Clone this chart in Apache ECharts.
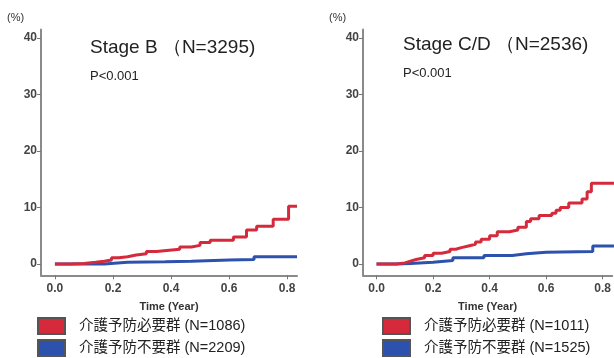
<!DOCTYPE html>
<html>
<head>
<meta charset="utf-8">
<script src="https://cdn.jsdelivr.net/npm/echarts@6/dist/echarts.min.js"></script>
<style>
html,body{margin:0;padding:0;background:#fff;}
#c{width:614px;height:358px;}
</style>
</head>
<body>
<div id="c"></div>
<script>
// ---- data (time in years, cumulative incidence in %) ----
const xTicks = [0, 0.2, 0.4, 0.6, 0.8];
const yTicks = [0, 10, 20, 30, 40];

const titles = ['Stage B （N=3295)', 'Stage C/D （N=2536)'];
const pText = ['P<0.001', 'P<0.001'];

const namesB = ['介護予防必要群 (N=1086)', '介護予防不要群 (N=2209)'];
const namesCD = ['介護予防必要群 (N=1011)', '介護予防不要群 (N=1525)'];

const stageB_need = [
  [0,0],[0.05,0.1],[0.1,0.3],[0.14,0.5],[0.17,0.7],[0.195,1.1],[0.22,1.3],[0.25,1.6],
  [0.28,1.8],[0.315,2.2],[0.35,2.4],[0.385,2.6],[0.43,3.0],[0.47,3.3],[0.5,3.8],
  [0.535,4.2],[0.615,4.8],[0.66,6.0],[0.695,6.7],[0.752,7.9],[0.805,10.2],[0.834,10.2]
];
const stageB_noneed = [
  [0,0],[0.17,0.3],[0.25,0.4],[0.38,0.5],[0.47,0.7],[0.6,0.8],[0.686,1.3],[0.834,1.3]
];
const stageCD_need = [
  [0,0],[0.07,0.2],[0.1,0.5],[0.12,0.8],[0.14,1.1],[0.17,1.5],[0.2,1.9],[0.23,2.2],
  [0.26,2.6],[0.28,2.9],[0.3,3.2],[0.325,3.5],[0.35,3.9],[0.37,4.4],[0.4,5.0],
  [0.427,5.7],[0.47,6.0],[0.5,6.5],[0.53,7.5],[0.545,8.0],[0.575,8.6],[0.62,9.0],
  [0.635,9.5],[0.65,10.0],[0.68,10.8],[0.727,11.5],[0.745,12.8],[0.76,14.3],[0.84,14.3]
];
const stageCD_noneed = [
  [0,0],[0.07,0.1],[0.12,0.3],[0.2,0.6],[0.27,1.1],[0.38,1.5],[0.48,1.8],[0.53,2.1],
  [0.6,2.2],[0.765,3.2],[0.84,3.2]
];

const RED = '#d42a3c';
const BLUE = '#2d52ad';
const LATIN = '"Liberation Sans", Arial, sans-serif';
const CJK = '"Liberation Sans", "Noto Sans CJK JP", sans-serif';

function xAxis(gi, max) {
  return {
    type: 'value', gridIndex: gi, min: -0.048, max: max,
    name: 'Time (Year)', nameLocation: 'middle', nameGap: 26,
    nameTextStyle: {fontFamily: LATIN, fontWeight: 'bold', fontSize: 11, color: '#333'},
    axisLine: {show: true, onZero: false, lineStyle: {color: '#8a8a8a', width: 2}},
    axisTick: {show: true, length: 4, customValues: xTicks, lineStyle: {color: '#777'}},
    axisLabel: {customValues: xTicks, formatter: v => v.toFixed(1), margin: 7,
      fontFamily: LATIN, fontWeight: 'bold', fontSize: 12, color: '#444'},
    splitLine: {show: false}
  };
}
function yAxis(gi) {
  return {
    type: 'value', gridIndex: gi, min: -2, max: 41.5,
    axisLine: {show: true, onZero: false, lineStyle: {color: '#8a8a8a', width: 2}},
    axisTick: {show: true, length: 4, customValues: yTicks, lineStyle: {color: '#777'}},
    axisLabel: {customValues: yTicks, margin: 4,
      fontFamily: LATIN, fontWeight: 'bold', fontSize: 12, color: '#444'},
    splitLine: {show: false}
  };
}
function line(name, data, color, idx) {
  return {
    name: name, type: 'line', step: 'end', data: data,
    xAxisIndex: idx, yAxisIndex: idx, symbol: 'none',
    lineStyle: {color: color, width: 3}, itemStyle: {color: color, borderColor: '#555', borderWidth: 1},
    z: color === RED ? 3 : 2, animation: false
  };
}
function legend(left, top, name) {
  return {
    left: left, top: top, orient: 'vertical', data: [name], padding: 0,
    icon: 'rect', itemWidth: 27, itemHeight: 16,
    textStyle: {fontFamily: CJK, fontSize: 14.5, lineHeight: 16, color: '#222', padding: [0,0,0,9]},
    selectedMode: false
  };
}

const chart = echarts.init(document.getElementById('c'), null, {renderer: 'canvas'});
chart.setOption({
  animation: false,
  grid: [
    {left: 41, top: 29.5, width: 256, height: 245.8},
    {left: 363, top: 29.5, width: 256, height: 245.8}
  ],
  xAxis: [xAxis(0, 0.834), xAxis(1, 0.834)],
  yAxis: [yAxis(0), yAxis(1)],
  legend: [
    legend(37, 317, namesB[0]), legend(37, 339, namesB[1]),
    legend(382, 317, namesCD[0]), legend(382, 339, namesCD[1])
  ],
  title: [
    {text: titles[0], left: 90, top: 38, textStyle: {fontFamily: LATIN, fontSize: 19, fontWeight: 'normal', color: '#222'},
     subtext: pText[0], subtextStyle: {fontFamily: LATIN, fontSize: 13, color: '#222'}, itemGap: 13, padding: 0},
    {text: titles[1], left: 403, top: 35, textStyle: {fontFamily: LATIN, fontSize: 19, fontWeight: 'normal', color: '#222'},
     subtext: pText[1], subtextStyle: {fontFamily: LATIN, fontSize: 13, color: '#222'}, itemGap: 13, padding: 0}
  ],
  graphic: [
    {type: 'text', left: 7, top: 12, style: {text: '(%)', font: '11px "Liberation Sans"', fill: '#333'}},
    {type: 'text', left: 329, top: 12, style: {text: '(%)', font: '11px "Liberation Sans"', fill: '#333'}}
  ],
  series: [
    line(namesB[0], stageB_need, RED, 0),
    line(namesB[1], stageB_noneed, BLUE, 0),
    line(namesCD[0], stageCD_need, RED, 1),
    line(namesCD[1], stageCD_noneed, BLUE, 1)
  ]
});
</script>
</body>
</html>
